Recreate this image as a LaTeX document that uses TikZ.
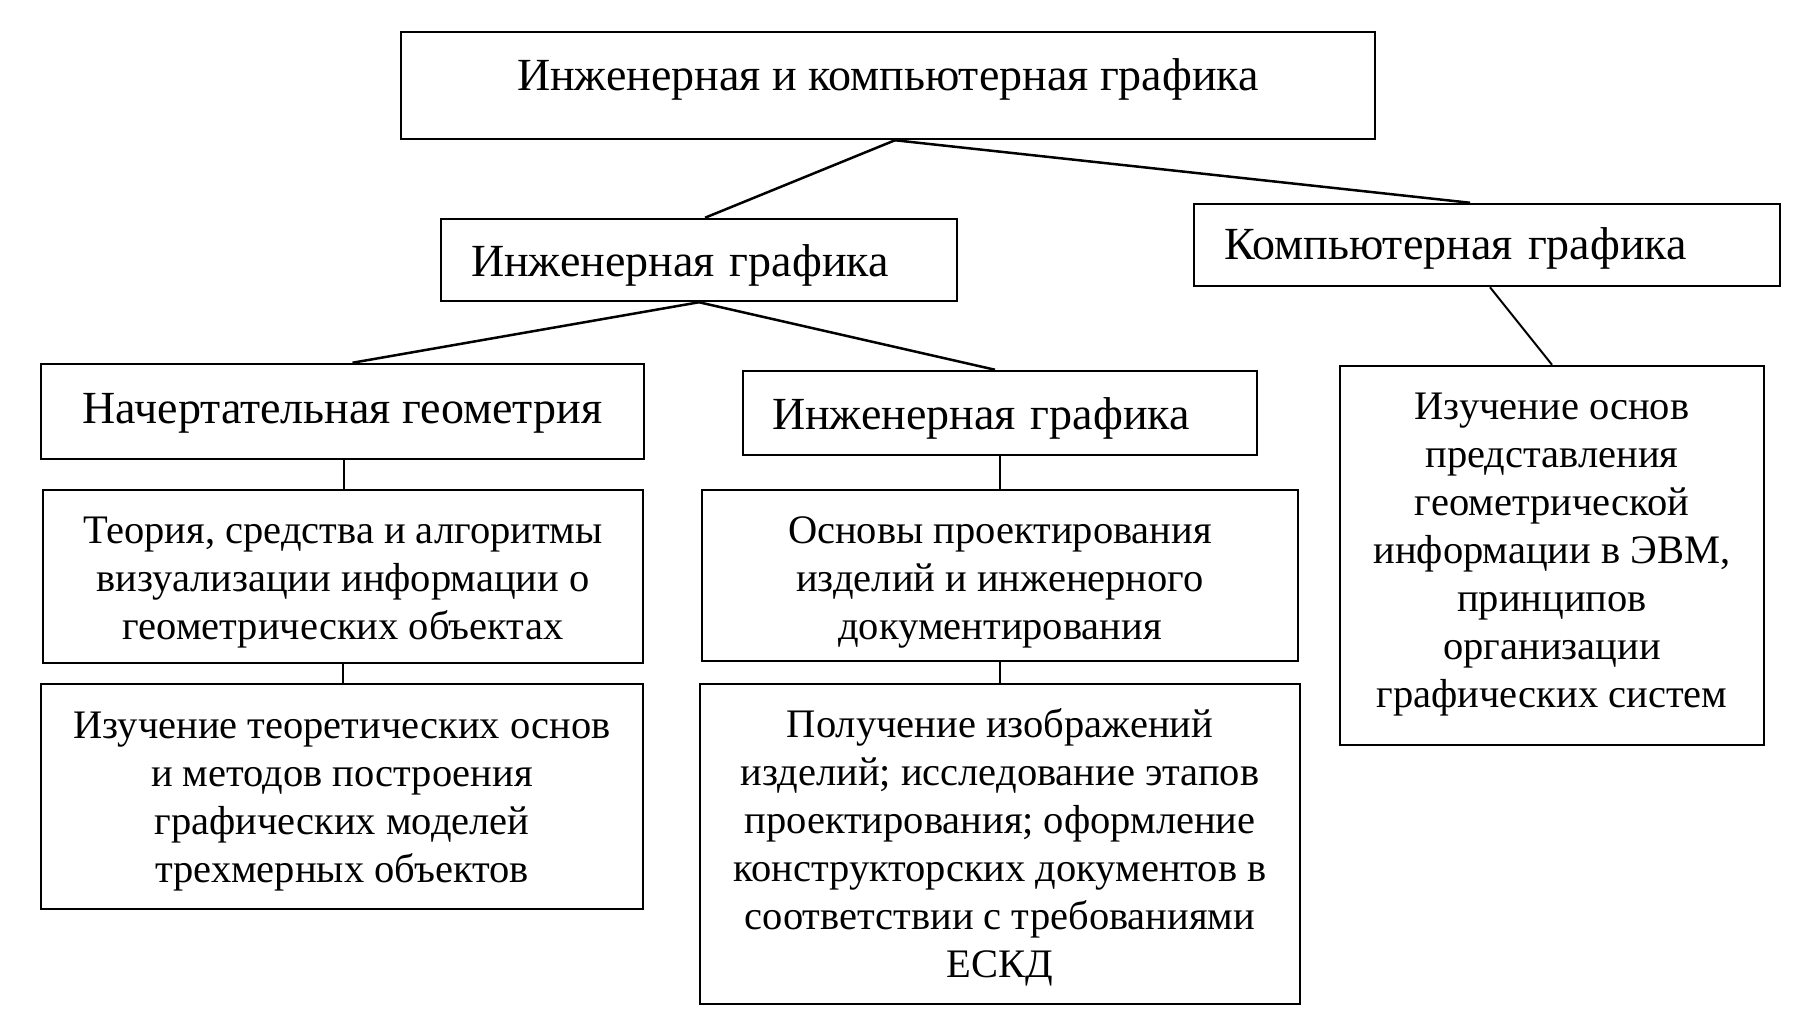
\documentclass[tikz,border=0pt]{standalone}
\usepackage{fontspec}
\setmainfont{Liberation Serif}
\newcommand\tx[2]{\raisebox{-#1}[\height][\depth]{\begin{tabular}{@{}c@{}}#2\end{tabular}}}
\tikzset{
  box/.style={draw, line width=2.5bp, inner sep=0pt, align=center},
  head/.style={box, font=\fontsize{46bp}{52bp}\selectfont},
  body/.style={box, font=\fontsize{40.5bp}{48bp}\selectfont},
  conn/.style={line width=2.5bp},
  vconn/.style={line width=2bp},
}
\begin{document}
\begin{tikzpicture}[x=1bp,y=-1bp]
\useasboundingbox (0,0) rectangle (1802,1027);
\node[head, minimum width=974bp, minimum height=107bp] (top) at (888,85.5) {\tx{-5bp}{Инженерная и компьютерная графика}};
\node[head, text width=456bp, inner xsep=30bp, align=left, minimum height=82bp] (b2) at (699,260) {\tx{6bp}{Инженерная графика}};
\node[head, text width=526bp, inner xsep=30bp, align=left, minimum height=82bp] (b3) at (1487,245) {\tx{4bp}{Компьютерная графика}};
\node[head, minimum width=603bp, minimum height=95bp] (b4) at (342.5,411.5) {\tx{2bp}{Начертательная геометрия}};
\node[head, text width=456bp, inner xsep=29bp, align=left, minimum height=84bp] (b5) at (1000,413) {\tx{6bp}{Инженерная графика}};
\node[body, minimum width=424bp, minimum height=379bp] (b6) at (1552,555.5) {\tx{-2bp}{Изучение основ\\представления\\геометрической\\информации в ЭВМ,\\принципов\\организации\\графических систем}};
\node[body, minimum width=600bp, minimum height=173bp] (b7) at (343,576.5) {\tx{5bp}{Теория, средства и алгоритмы\\визуализации информации о\\геометрических объектах}};
\node[body, minimum width=602bp, minimum height=225bp] (b8) at (342,796.5) {\tx{4bp}{Изучение теоретических основ\\и методов построения\\графических моделей\\трехмерных объектов}};
\node[body, minimum width=596bp, minimum height=171bp] (b9) at (1000,575.5) {\tx{6bp}{Основы проектирования\\изделий и инженерного\\документирования}};
\node[body, minimum width=600bp, minimum height=320bp] (b10) at (1000,844) {\tx{4bp}{Получение изображений\\изделий; исследование этапов\\проектирования; оформление\\конструкторских документов в\\соответствии с требованиями\\ЕСКД}};
\draw[conn] ([xshift=7bp]top.south) -- ([xshift=6bp]b2.north);
\draw[conn] ([xshift=7bp]top.south) -- ([xshift=-17bp]b3.north);
\draw[conn] (b2.south) -- ([xshift=10bp]b4.north);
\draw[conn] (b2.south) -- ([xshift=-5bp]b5.north);
\draw[vconn] ([xshift=3bp]b3.south) -- (b6.north);
\draw[vconn] ([xshift=1.5bp]b4.south) -- ([xshift=1bp]b7.north);
\draw[vconn] (b7.south) -- ([xshift=1bp]b8.north);
\draw[vconn] (b5.south) -- (b9.north);
\draw[vconn] (b9.south) -- (b10.north);
\end{tikzpicture}
\end{document}
